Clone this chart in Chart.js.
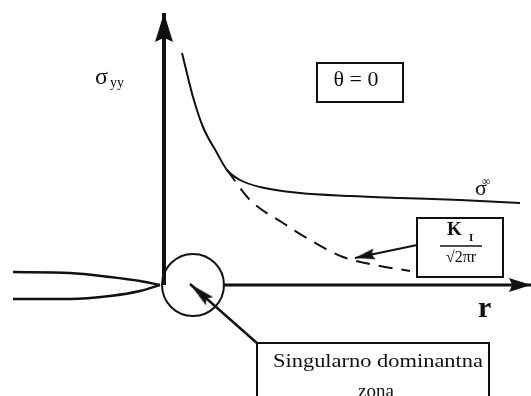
<!DOCTYPE html>
<html>
<head>
<meta charset="utf-8">
<script src="https://cdn.jsdelivr.net/npm/chart.js@4.4.1/dist/chart.umd.min.js"></script>
<style>
html, body { margin: 0; padding: 0; background: #fff; }
#wrap { width: 531px; height: 396px; position: relative; }
</style>
</head>
<body>
<div id="wrap"><canvas id="c"></canvas></div>
<script>
// units: r along the crack line (origin = crack tip), sigma_yy upwards
const totalR = [1.8, 2.9, 3.9, 5.3, 6.3, 7.6, 9.6, 13.6, 18.6, 23.6, 29.6, 35.6];
const totalS = [23.2, 18.8, 15.8, 13.2, 11.5, 10.5, 9.8, 9.2, 8.9, 8.7, 8.5, 8.2];

const singR = [6.3, 8.6, 11.9, 14.6, 17.9, 21.1, 24.6];
const singS = [11.5, 8.5, 6.2, 4.5, 2.8, 2.0, 1.4];

const crackR = [-15.1, -9.4, -5.4, -2.4, -0.4];
const crackUp = [1.3, 1.2, 0.8, 0.4, 0];
const crackLow = [-1.4, -1.4, -1.1, -0.6, 0];

const yAxisPts = [[0, 0], [0, 27.2]];
const xAxisPts = [[5.9, 0], [36.7, 0]];
const zoneCenter = [2.9, 0];
const zonePointer = [[9.4, -5.9], [2.6, 0.1]];
const kPointer = [[25.3, 4.0], [19.1, 2.7]];

const boxes = [
    [15.3, 22.2, 23.9, 18.3],
    [25.3, 6.7, 33.9, 0.8],
    [9.3, -5.8, 32.5, -12.5]
];
const rules = [[27.6, 3.9, 31.8]];
const labels = [
    { t: 'σ', x: -6.9, y: 20.1, font: '24px "Liberation Serif"' },
    { t: 'yy', x: -5.4, y: 19.8, font: '14px "Liberation Serif"' },
    { t: 'θ = 0', x: 19.2, y: 19.9, font: '22px "Liberation Serif"', align: 'center' },
    { t: 'σ', x: 31.1, y: 9.0, font: '22px "Liberation Serif"' },
    { t: '∞', x: 31.8, y: 10.0, font: '12px "Liberation Serif"' },
    { t: 'K', x: 28.3, y: 5.0, font: 'bold 19px "Liberation Serif"' },
    { t: 'I', x: 30.5, y: 4.4, font: 'bold 11px "Liberation Serif"' },
    { t: '√2πr', x: 29.7, y: 2.3, font: '16px "Liberation Serif"', align: 'center' },
    { t: 'r', x: 31.4, y: -3.2, font: 'bold 30px "Liberation Serif"' },
    { t: 'Singularno dominantna', x: 21.4, y: -8.2, font: '19px "Liberation Serif"', align: 'center', w: 210 },
    { t: 'zona', x: 21.2, y: -11.2, font: '19px "Liberation Serif"', align: 'center' }
];

const ink = '#111';

function pts(xs, ys) {
    return xs.map((x, i) => ({ x: x, y: ys[i] }));
}
function pairs(list) {
    return list.map(p => ({ x: p[0], y: p[1] }));
}

function makeHead(len, base) {
    let c = document.createElement('canvas');
    c.width = base;
    c.height = len * 2;
    let g = c.getContext('2d');
    g.fillStyle = ink;
    g.beginPath();
    g.moveTo(base / 2, len);
    g.lineTo(base, len * 2);
    g.lineTo(base / 2, len * 1.85);
    g.lineTo(0, len * 2);
    g.closePath();
    g.fill();
    return c;
}

// rotation of an up-pointing head so it points from tail to tip
function headAngle(line) {
    return function(ctx) {
        let sx = ctx.chart.scales.x, sy = ctx.chart.scales.y;
        let dx = sx.getPixelForValue(line[1][0]) - sx.getPixelForValue(line[0][0]);
        let dy = sy.getPixelForValue(line[1][1]) - sy.getPixelForValue(line[0][1]);
        return Math.atan2(dy, dx) * 180 / Math.PI + 90;
    };
}

function lineSet(data, width, extra) {
    return Object.assign({
        data: data,
        showLine: true,
        borderColor: ink,
        borderWidth: width,
        pointRadius: 0,
        fill: false,
        clip: false
    }, extra || {});
}

function headSet(line, len, base) {
    return {
        data: [{ x: line[1][0], y: line[1][1] }],
        showLine: false,
        pointStyle: makeHead(len, base),
        pointRadius: 5,
        rotation: headAngle(line),
        clip: false
    };
}

const decor = {
    id: 'decor',
    afterDatasetsDraw(chart) {
        let c = chart.ctx, sx = chart.scales.x, sy = chart.scales.y;
        let px = v => sx.getPixelForValue(v), py = v => sy.getPixelForValue(v);
        c.save();
        c.strokeStyle = ink;
        c.lineWidth = 2;
        boxes.forEach(b => {
            c.strokeRect(px(b[0]), py(b[1]), px(b[2]) - px(b[0]), py(b[3]) - py(b[1]));
        });
        c.lineWidth = 1.5;
        rules.forEach(r => {
            c.beginPath();
            c.moveTo(px(r[0]), py(r[1]));
            c.lineTo(px(r[2]), py(r[1]));
            c.stroke();
        });
        c.fillStyle = ink;
        c.textBaseline = 'alphabetic';
        labels.forEach(l => {
            c.font = l.font;
            c.textAlign = l.align || 'left';
            let x = px(l.x), y = py(l.y);
            if (l.w) {
                let k = l.w / c.measureText(l.t).width;
                c.save();
                c.translate(x, y);
                c.scale(k, 1);
                c.fillText(l.t, 0, 0);
                c.restore();
            } else {
                c.fillText(l.t, x, y);
            }
        });
        c.restore();
    }
};

new Chart(document.getElementById('c'), {
    type: 'scatter',
    data: {
        datasets: [
            lineSet(pts(totalR, totalS), 2, { cubicInterpolationMode: 'monotone' }),
            lineSet(pts(singR, singS), 2, { cubicInterpolationMode: 'monotone', borderDash: [14, 9] }),
            lineSet(pts(crackR, crackUp), 2.5, { cubicInterpolationMode: 'monotone' }),
            lineSet(pts(crackR, crackLow), 2.5, { cubicInterpolationMode: 'monotone' }),
            lineSet(pairs(yAxisPts), 4),
            lineSet(pairs(xAxisPts), 3),
            lineSet(pairs(zonePointer), 2.5),
            lineSet(pairs(kPointer), 2),
            {
                data: [{ x: zoneCenter[0], y: zoneCenter[1] }],
                showLine: false,
                pointRadius: 31,
                pointBorderWidth: 2,
                pointBorderColor: ink,
                pointBackgroundColor: 'rgba(0,0,0,0)',
                clip: false
            },
            headSet(yAxisPts, 29, 18),
            headSet(xAxisPts, 22, 14),
            headSet(zonePointer, 26, 11),
            headSet(kPointer, 20, 11)
        ]
    },
    options: {
        responsive: true,
        maintainAspectRatio: false,
        animation: false,
        layout: { padding: 0, autoPadding: false },
        plugins: {
            legend: { display: false },
            tooltip: { enabled: false }
        },
        scales: {
            x: { type: 'linear', min: -16.4, max: 36.7, display: false },
            y: { type: 'linear', min: -11.1, max: 28.5, display: false }
        }
    },
    plugins: [decor]
});
</script>
</body>
</html>
